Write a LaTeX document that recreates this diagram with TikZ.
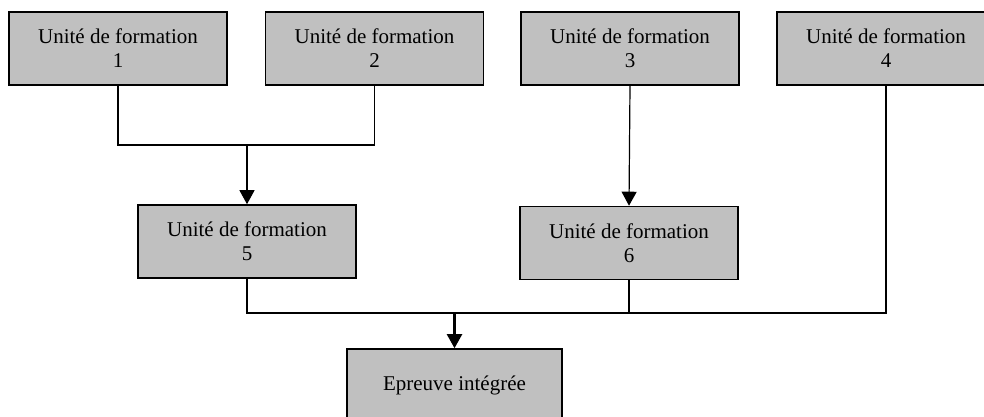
\documentclass[tikz,border=0pt]{standalone}
\usepackage{fontspec}
\setmainfont{Liberation Serif}
\usetikzlibrary{arrows.meta}
\definecolor{boxgray}{HTML}{C0C0C0}
\tikzset{
  unitbox/.style={draw=black, line width=1.6pt, fill=boxgray, minimum width=218pt, minimum height=73pt,
    inner sep=0pt, align=center, font=\fontsize{21}{24}\selectfont},
  conn/.style={draw=black, line width=1.2pt},
  thickconn/.style={draw=black, line width=2.2pt},
  arr/.style={-{Triangle[length=14pt,width=15pt]}}
}
\begin{document}
\begin{tikzpicture}[x=1pt,y=-1pt]
\useasboundingbox (0,0) rectangle (984,416);
\clip (0,0) rectangle (984,416);
\node[unitbox] (b1) at (118,48.5) {Unité de formation\\1};
\node[unitbox] (b2) at (374.5,48.5) {Unité de formation\\2};
\node[unitbox] (b3) at (630,48.5) {Unité de formation\\3};
\node[unitbox] (b4) at (886,48.5) {Unité de formation\\4};
\node[unitbox] (b5) at (247,241.5) {Unité de formation\\5};
\node[unitbox] (b6) at (629,243) {Unité de formation\\6};
\node[unitbox, minimum width=215pt] (ep) at (454.5,385.5) {Epreuve intégrée};
\coordinate (j1) at (247,145);
\coordinate (j2) at (454.5,313);
\coordinate (j3) at (629,313);
\draw[conn] (b1.south) |- (j1) -| (b2.south);
\draw[conn, arr] (j1) -- (b5.north);
\draw[conn, arr] (b3.south) -- (b6.north);
\draw[conn] (b5.south) |- (j2);
\draw[conn] (b4.south) |- (j3);
\draw[conn] (b6.south) -- (j3);
\draw[thickconn] (j3) -- (j2);
\draw[thickconn, arr] (j2) -- (ep.north);
\end{tikzpicture}
\end{document}
